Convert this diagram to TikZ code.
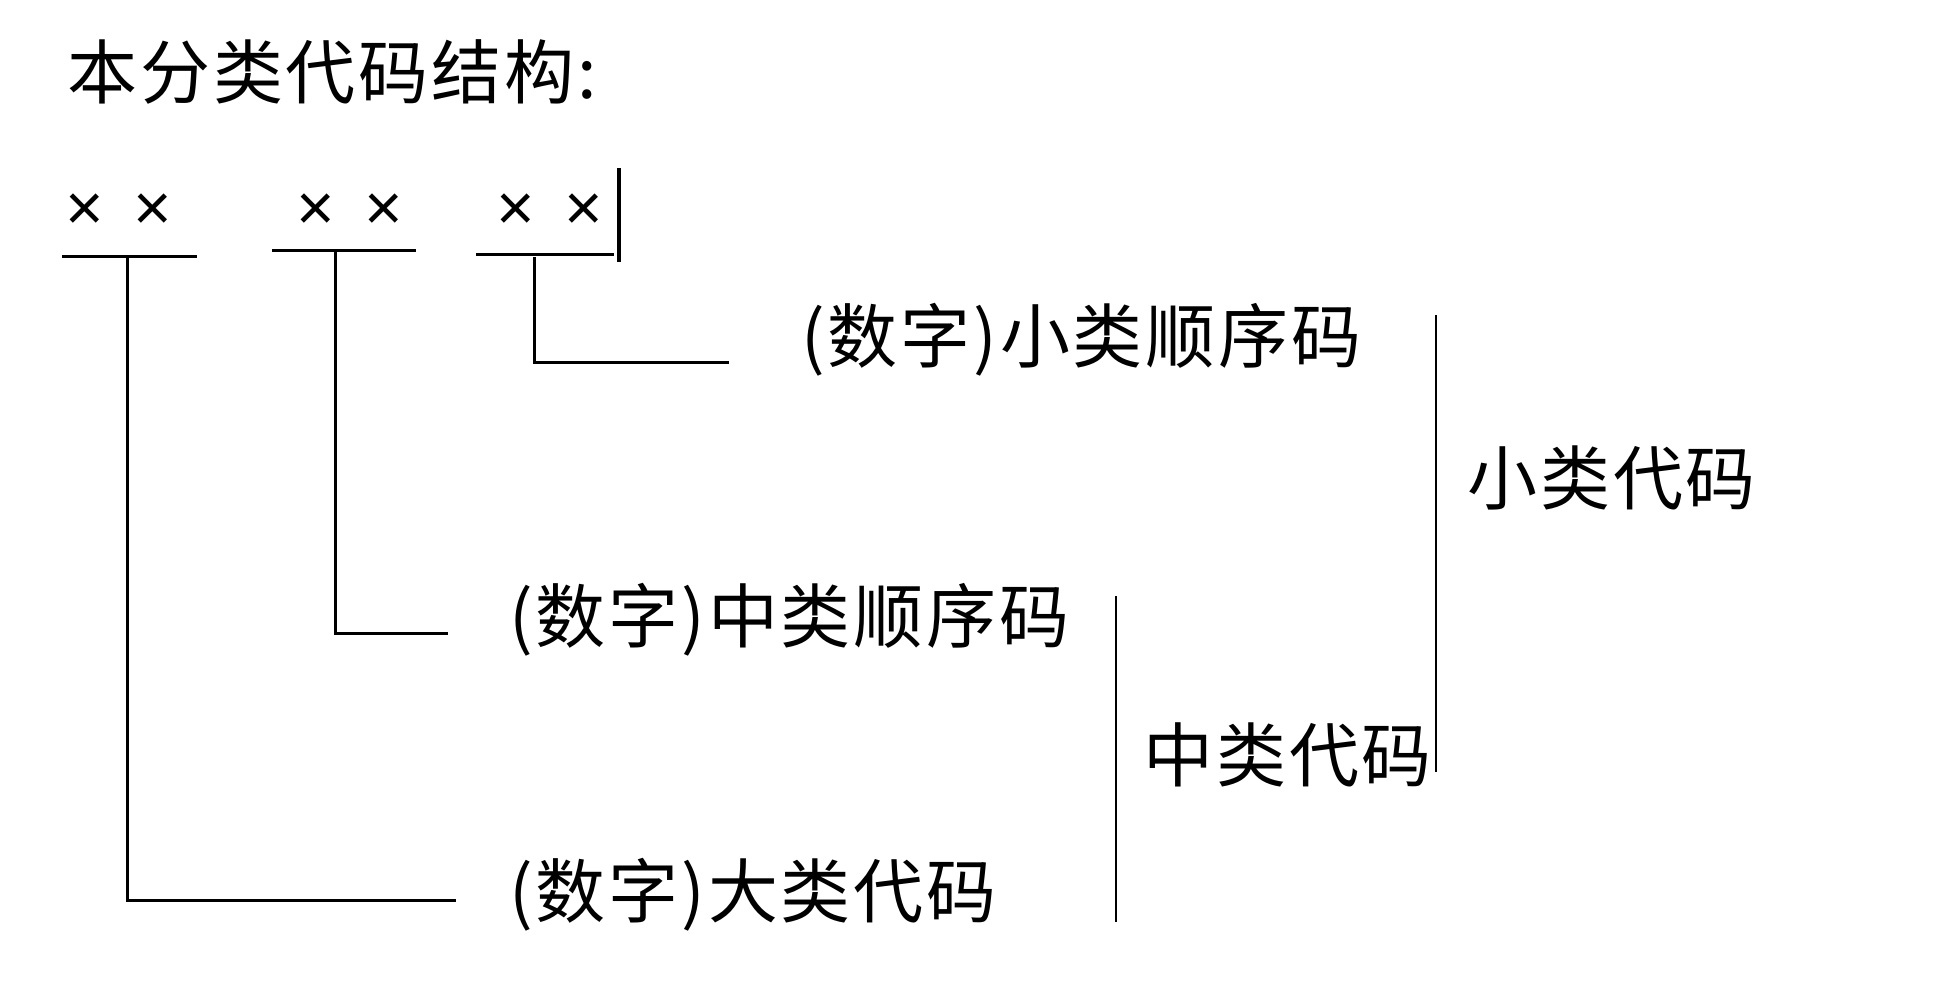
\documentclass[tikz,border=0pt]{standalone}
\usepackage{fontspec}
\setmainfont{Noto Sans CJK SC}
\newfontfamily\labelfont[LetterSpace=4]{Noto Sans CJK SC}
\newfontfamily\crossfont{Liberation Sans}
\usetikzlibrary{positioning}

\begin{document}
\begin{tikzpicture}[x=1pt,y=-1pt,line width=3pt,
  lbl/.style={anchor=west,inner sep=0pt,font=\labelfont\fontsize{70}{74}\selectfont},
  xx/.style={inner sep=0pt,font=\crossfont\fontsize{66}{70}\selectfont}]
\useasboundingbox (0,0) rectangle (1960,982);
% title
\node[lbl] (title) at (66,72) {本分类代码结构:};
% code digits
\node[xx] (g1) at (119,212) {×\kern29pt×};
\node[xx] (g2) at (350,212) {×\kern29pt×};
\node[xx] (g3) at (550,212) {×\kern29pt×};
\coordinate (u1a) at (62,256);  \coordinate (u1b) at (197,256);
\coordinate (u2a) at (272,250); \coordinate (u2b) at (416,250);
\coordinate (u3a) at (476,254); \coordinate (u3b) at (614,254);
\draw (u1a) -- (u1b);
\draw (u2a) -- (u2b);
\draw (u3a) -- (u3b);
\draw[line width=3.5pt] (619,168) coordinate (bar1) -- (619,262) coordinate (bar2);
% labels
\node[lbl] (l3) at (800,340) {(数字)小类顺序码};
\node[lbl] (l2) at (508,620) {(数字)中类顺序码};
\node[lbl] (l1) at (508,895) {(数字)大类代码};
% connectors
\coordinate (m1) at (127,256); \coordinate (e1) at (456,900);
\coordinate (m2) at (335,250); \coordinate (e2) at (448,633);
\coordinate (m3) at (534,257); \coordinate (e3) at (729,362);
\draw (m1) |- (e1);
\draw (m2) |- (e2);
\draw (m3) |- (e3);
% brackets
\draw[line width=2.5pt] (1116,596) coordinate (b2a) -- (1116,922) coordinate (b2b);
\node[lbl] (mid) at (1142,755) {中类代码};
\draw[line width=2.5pt] (1436,315) coordinate (b3a) -- (1436,772) coordinate (b3b);
\node[lbl] (small) at (1466,478) {小类代码};
\end{tikzpicture}
\end{document}
